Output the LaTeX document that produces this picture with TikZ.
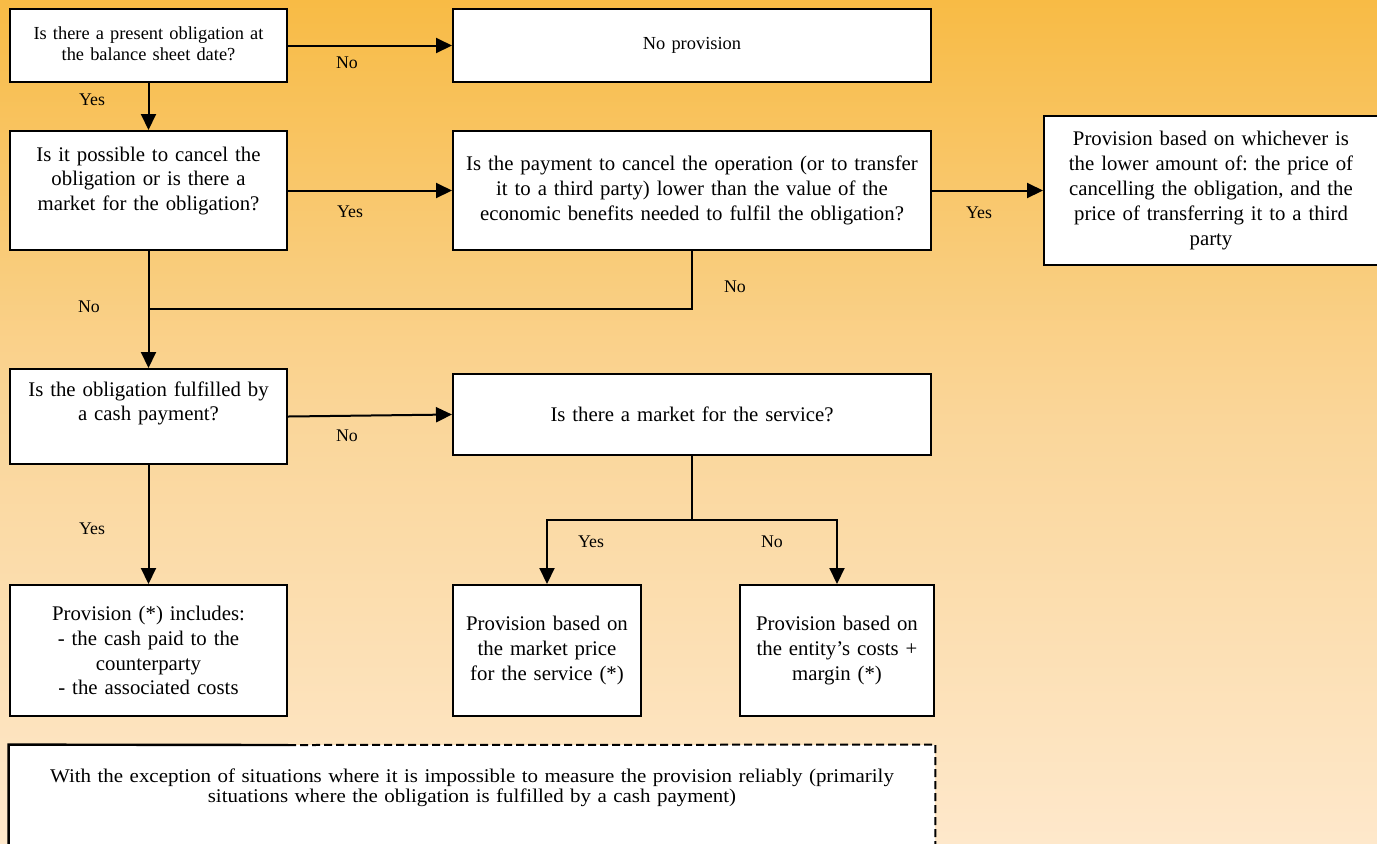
\documentclass[tikz,border=0pt]{standalone}
\usepackage{fontspec}
\setmainfont{Liberation Serif}
\newfontfamily\notefont[FakeStretch=1.08]{Liberation Serif}
\usetikzlibrary{arrows.meta}
\definecolor{bgtop}{HTML}{F8BB45}
\definecolor{bgmid}{HTML}{FAD69A}
\definecolor{bgbot}{HTML}{FEE8CB}
\frenchspacing
\begin{document}
\begin{tikzpicture}[x=0.5pt,y=-0.5pt,
  box/.style={draw=black, line width=1pt, fill=white, align=center, inner sep=0pt},
  small/.style={font=\fontsize{9.2}{10.5}\selectfont},
  big/.style={font=\fontsize{10.4}{12.4}\selectfont},
  lbl/.style={font=\fontsize{8.9}{10}\selectfont, inner sep=0pt},
  conn/.style={line width=1pt},
  arr/.style={conn, -{Triangle[length=8pt,width=7.5pt]}},
  lift/.style={text height=0pt, text depth=#1},
]
\useasboundingbox (0,0) rectangle (1377,843);
\clip (0,0) rectangle (1377,843);
\shade[top color=bgtop, bottom color=bgbot, middle color=bgmid] (0,0) rectangle (1377,843);

% boxes
\node[box, small, minimum width=138.5pt, minimum height=36.5pt, text width=134pt, lift=6.5pt] (q1) at (148.5,45.5)
  {Is there a present obligation at\\the balance sheet date?};
\node[box, small, minimum width=239pt, minimum height=36.5pt, text width=234pt] (b1) at (692,45.5)
  {No provision};
\node[box, big, minimum width=138.5pt, minimum height=59.5pt, text width=134pt, lift=29.5pt] (q2) at (148.5,190.5)
  {Is it possible to cancel the\\obligation or is there a\\market for the obligation?};
\node[box, big, minimum width=239pt, minimum height=59.5pt, text width=234pt] (q3) at (692,190.5)
  {Is the payment to cancel the operation (or to transfer\\it to a third party) lower than the value of the\\economic benefits needed to fulfil the obligation?};
\node[box, big, minimum width=167pt, minimum height=74.5pt, text width=162pt] (r1) at (1211,190.5)
  {Provision based on whichever is\\the lower amount of: the price of\\cancelling the obligation, and the\\price of transferring it to a third\\party};
\node[box, big, minimum width=138.5pt, minimum height=47.5pt, text width=134pt, lift=20.5pt] (q4) at (148.5,416.5)
  {Is the obligation fulfilled by\\a cash payment?};
\node[box, big, minimum width=239pt, minimum height=40.5pt, text width=234pt] (q5) at (692,414.5)
  {Is there a market for the service?};
\node[box, big, minimum width=138.5pt, minimum height=65.5pt, text width=134pt] (r2) at (148.5,650.5)
  {Provision (*) includes:\\- the cash paid to the\\counterparty\\- the associated costs};
\node[box, big, minimum width=94pt, minimum height=65.5pt, text width=90pt] (r3) at (547,650.5)
  {Provision based on\\the market price\\for the service (*)};
\node[box, big, minimum width=97pt, minimum height=65.5pt, text width=93pt] (r4) at (837,650.5)
  {Provision based on\\the entity’s costs +\\margin (*)};

% note box
\node[fill=white, inner sep=0pt, align=center, minimum width=463pt, minimum height=62.5pt, text width=455pt,
      font=\notefont\fontsize{9.7}{10.2}\selectfont, lift=25.5pt] (note) at (472,807.5)
  {With the exception of situations where it is impossible to measure the provision reliably (primarily\\situations where the obligation is fulfilled by a cash payment)};
\coordinate (nsplit) at (288,745);
\draw[line width=1.2pt] (note.south west) -- (note.north west) -- (nsplit);
\draw[line width=1pt, dash pattern=on 4pt off 2pt] (nsplit) -- (note.north east) -- (note.south east);

% connectors
\coordinate (j1) at (148.5,309);
\coordinate (j2) at (692,520);
\draw[arr] (q1.east) -- (b1.west);
\draw[arr] (q1.south) -- (q2.north);
\draw[arr] (q2.east) -- (q3.west);
\draw[arr] (q3.east) -- (r1.west);
\draw[conn] (q3.south) |- (j1);
\draw[arr] (q2.south) -- (q4.north);
\draw[arr] (q4.east) -- (q5.west);
\draw[arr] (q4.south) -- (r2.north);
\draw[conn] (q5.south) -- (j2);
\draw[arr] (j2) -| (r3.north);
\draw[arr] (j2) -| (r4.north);

% labels
\node[lbl] (l1) at (347,63) {No};
\node[lbl] (l2) at (92,100) {Yes};
\node[lbl] (l3) at (350,212) {Yes};
\node[lbl] (l4) at (979,213) {Yes};
\node[lbl] (l5) at (735,287) {No};
\node[lbl] (l6) at (89,307) {No};
\node[lbl] (l7) at (347,436) {No};
\node[lbl] (l8) at (591,542) {Yes};
\node[lbl] (l9) at (772,542) {No};
\node[lbl] (l10) at (92,529) {Yes};
\end{tikzpicture}
\end{document}
